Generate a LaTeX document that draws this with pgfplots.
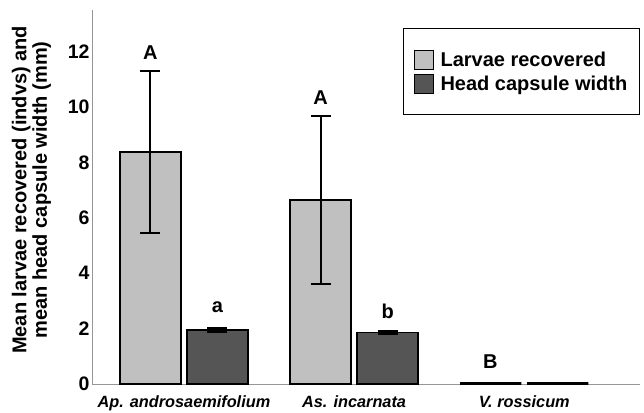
\documentclass[border=0pt]{standalone}
\usepackage{fontspec}
\setmainfont{Liberation Sans}
\usepackage{pgfplots}
\pgfplotsset{compat=1.18}
\definecolor{lightbar}{RGB}{192,192,192}
\definecolor{darkbar}{RGB}{85,85,85}
\definecolor{axisgrey}{RGB}{150,150,150}

\begin{document}
\begin{tikzpicture}
\begin{axis}[
    scale only axis,
    width=548pt, height=374pt,
    xmin=-0.54, xmax=2.68,
    ymin=0, ymax=13.5,
    axis x line*=bottom, axis y line*=left,
    axis line style={axisgrey, line width=0.8pt, -},
    major tick length=0pt,
    xtick={0,1,2},
    xticklabels={Ap. androsaemifolium, As. incarnata, V. rossicum},
    ytick={0,2,...,12},
    /pgf/number format/assume math mode=true,
    x tick label style={font=\fontsize{16.3}{20}\selectfont\bfseries\itshape, yshift=-8pt},
    y tick label style={font=\fontsize{19.5}{22}\selectfont\bfseries, xshift=1pt},
    ylabel={Mean larvae recovered (indvs) and\\mean head capsule width (mm)},
    ylabel style={align=center, font=\fontsize{20}{20.5}\selectfont\bfseries,
        at={(axis description cs:-0.1105,0.519)}, anchor=center},
    ybar, bar width=0.36,
    legend style={at={(rel axis cs:1,0.952)}, anchor=north east,
        draw=black, line width=1.5pt, inner xsep=10pt, inner ysep=21pt,
        font=\fontsize{20}{24}\selectfont\bfseries, row sep=4pt,
        /tikz/every odd column/.append style={column sep=5pt}},
    legend cell align=left,
    legend image code/.code={
        \draw[#1, line width=0.8pt] (0pt,-9.5pt) rectangle (19pt,9.5pt);
    },
    error bars/error mark options={rotate=90, mark size=10pt, line width=2pt, black},
]
% larvae recovered
\addplot[fill=lightbar, draw=black, line width=1.8pt, bar shift=-0.197,
    error bars/.cd, y dir=both, y explicit,
    error bar style={black, line width=2pt}]
    coordinates {(0,8.36) +- (0,2.92) (1,6.63) +- (0,3.03)};
\addlegendentry{Larvae recovered}
% head capsule width
\addplot[fill=darkbar, draw=black, line width=1.8pt, bar shift=0.197,
    error bars/.cd, y dir=both, y explicit,
    error bar style={black, line width=2pt}]
    coordinates {(0,1.96) +- (0,0.07) (1,1.86) +- (0,0.06)};
\addlegendentry{Head capsule width}
% V. rossicum: no larvae recovered
\addplot[fill=lightbar, draw=black, line width=3.5pt, bar shift=-0.197, forget plot]
    coordinates {(2,0)};
\addplot[fill=darkbar, draw=black, line width=3.5pt, bar shift=0.197, forget plot]
    coordinates {(2,0)};

\node[font=\fontsize{20}{22}\selectfont\bfseries] at (axis cs:-0.197,11.96) {A};
\node[font=\fontsize{20}{22}\selectfont\bfseries] at (axis cs:0.803,10.34) {A};
\node[font=\fontsize{20}{22}\selectfont\bfseries] at (axis cs:0.197,2.77) {a};
\node[font=\fontsize{20}{22}\selectfont\bfseries] at (axis cs:1.197,2.63) {b};
\node[font=\fontsize{20}{22}\selectfont\bfseries] at (axis cs:1.8,0.79) {B};
\end{axis}
\pgfresetboundingbox
\path ([shift={(-92pt,-28pt)}]current axis.south west) rectangle ([shift={(4pt,10pt)}]current axis.north east);
\end{tikzpicture}
\end{document}
